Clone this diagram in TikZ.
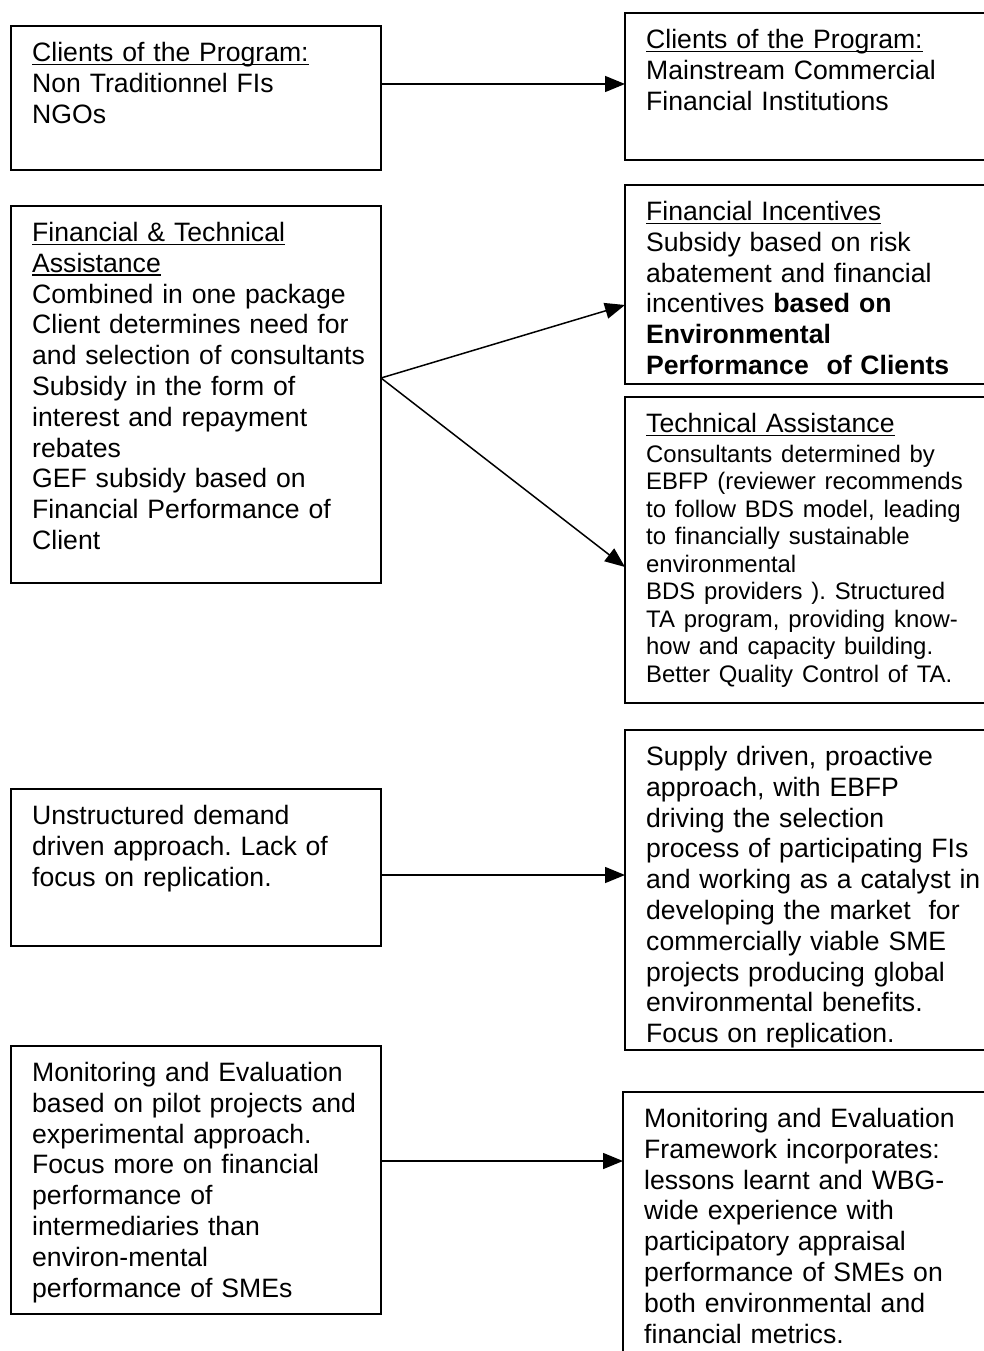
\documentclass[tikz,border=0pt]{standalone}
\usepackage{fontspec}
\setmainfont{Liberation Sans}
\usetikzlibrary{arrows.meta,positioning}
\frenchspacing
\newcommand\bodysize{\fontsize{26.6}{30.8}\selectfont}
\newcommand\smallsize{\fontsize{23.9}{27.5}\selectfont}
\newsavebox\hdbox
\newcommand\hd[1]{\leavevmode\sbox\hdbox{#1}\rlap{\usebox\hdbox}\rule[-4pt]{\wd\hdbox}{1.8pt}}

\begin{document}
\begin{tikzpicture}[x=1pt,y=-1pt,
  box/.style={draw, line width=1.8pt, outer sep=0pt, inner sep=0pt, anchor=north west},
  txt/.style={anchor=north west, inner sep=0pt, text width=345pt, align=left, font=\bodysize},
  arr/.style={line width=1.5pt, -{Triangle[length=20pt,width=16pt]}}]
\useasboundingbox (0,0) rectangle (984,1351);
\clip (0,0) rectangle (984,1351);
% left column
\node[box, minimum width=370pt, minimum height=144pt] (l1) at (11,26) {};
\node[box, minimum width=370pt, minimum height=377pt] (l2) [below=36pt of l1.south west, anchor=north west] {};
\node[box, minimum width=370pt, minimum height=157pt] (l3) [below=206pt of l2.south west, anchor=north west] {};
\node[box, minimum width=370pt, minimum height=268pt] (l4) [below=100pt of l3.south west, anchor=north west] {};
% right column
\node[box, minimum width=380pt, minimum height=147pt] (r1) at (625,13) {};
\node[box, minimum width=380pt, minimum height=199pt] (r2) [below=25pt of r1.south west, anchor=north west] {};
\node[box, minimum width=380pt, minimum height=306pt] (r3) [below=13pt of r2.south west, anchor=north west] {};
\node[box, minimum width=380pt, minimum height=320pt] (r4) [below=27pt of r3.south west, anchor=north west] {};
\node[box, minimum width=382pt, minimum height=300pt] (r5) [below=42pt of r4.south west, xshift=-2pt, anchor=north west] {};
% texts
\node[txt] (l1t) at ([shift={(21pt,-16pt)}]l1.north west)
  {\hd{Clients of the Program:}\\Non Traditionnel FIs\\NGOs};
\node[txt] (l2t) at ([shift={(21pt,-16pt)}]l2.north west)
  {\hd{Financial \& Technical}\\\hd{Assistance}\\Combined in one package\\Client determines need for\\and selection of consultants\\Subsidy in the form of\\interest and repayment\\rebates\\GEF subsidy based on\\Financial Performance of\\Client};
\node[txt] (l3t) at ([shift={(21pt,-16pt)}]l3.north west)
  {Unstructured demand\\driven approach. Lack of\\focus on replication.};
\node[txt] (l4t) at ([shift={(21pt,-16pt)}]l4.north west)
  {Monitoring and Evaluation\\based on pilot projects and\\experimental approach.\\Focus more on financial\\performance of\\intermediaries than\\environ-mental\\performance of SMEs};
\node[txt] (r1t) at ([shift={(21pt,-16pt)}]r1.north west)
  {\hd{Clients of the Program:}\\Mainstream Commercial\\Financial Institutions};
\node[txt] (r2t) at ([shift={(21pt,-16pt)}]r2.north west)
  {\hd{Financial Incentives}\\Subsidy based on risk\\abatement and financial\\incentives \textbf{based on}\\\textbf{Environmental}\\\textbf{Performance\ \ of Clients}};
\node[txt] (r3t) at ([shift={(21pt,-16pt)}]r3.north west)
  {\hd{Technical Assistance}\\[2.5pt]\smallsize Consultants determined by\\EBFP (reviewer recommends\\to follow BDS model, leading\\to financially sustainable\\environmental\\BDS providers ). Structured\\TA program, providing know-\\how and capacity building.\\Better Quality Control of TA.\par};
\node[txt] (r4t) at ([shift={(21pt,-16pt)}]r4.north west)
  {Supply driven, proactive\\approach, with EBFP\\driving the selection\\process of participating FIs\\and working as a catalyst in\\developing the market\ \ for\\commercially viable SME\\projects producing global\\environmental benefits.\\Focus on replication.};
\node[txt] (r5t) at ([shift={(21pt,-16pt)}]r5.north west)
  {Monitoring and Evaluation\\Framework incorporates:\\lessons learnt and WBG-\\wide experience with\\participatory appraisal\\performance of SMEs on\\both environmental and\\financial metrics.};
% arrows
\draw[arr] ([yshift=14pt]l1.east) coordinate (a1) -- (a1 -| r1.west);
\draw[arr] ([yshift=16.5pt]l2.east) coordinate (a2) -- ([yshift=-20.5pt]r2.west);
\draw[arr] (a2) -- ([yshift=-17pt]r3.west);
\draw[arr] ([yshift=-7.5pt]l3.east) coordinate (a3) -- (a3 -| r4.west);
\draw[arr] ([yshift=19pt]l4.east) coordinate (a4) -- (a4 -| r5.west);
\end{tikzpicture}
\end{document}
